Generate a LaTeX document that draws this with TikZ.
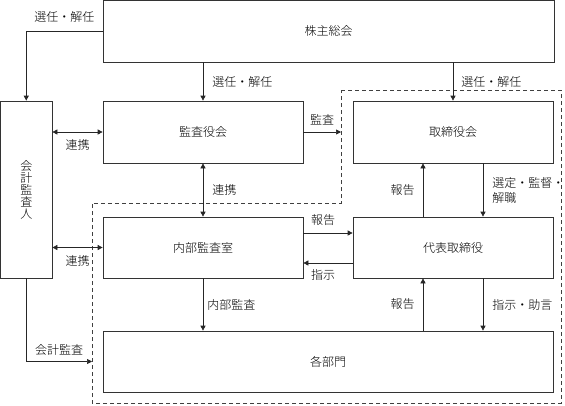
\documentclass[tikz,border=0pt]{standalone}
\usepackage{fontspec}
\setmainfont{Noto Sans CJK JP}[UprightFont=* Light]
\usetikzlibrary{arrows.meta,calc}

\begin{document}
\begin{tikzpicture}[x=1pt,y=-1pt]
\tikzstyle{every node}+=[inner sep=0pt, font=\fontsize{12}{12}\selectfont]
\tikzstyle{box}=[draw=black!80, line width=0.7pt]
\tikzstyle{arr}=[draw=black!85, line width=0.7pt, -{Triangle[length=5pt,width=5pt]}]
\tikzstyle{biarr}=[arr, {Triangle[length=5pt,width=5pt]}-{Triangle[length=5pt,width=5pt]}]
\tikzstyle{dashline}=[draw=black!75, line width=0.7pt, dash pattern=on 4pt off 3pt]
\useasboundingbox (0,0) rectangle (565,405);
% boxes
\node[box, minimum width=451pt, minimum height=61.5pt] (soukai) at (328.5,31.25) {株主総会};
\node[box, minimum width=51.5pt, minimum height=177pt, align=center] (kansanin) at (26.25,189.5) {会\\計\\監\\査\\人};
\node[box, minimum width=200pt, minimum height=62pt] (kansayaku) at (203,132) {監査役会};
\node[box, minimum width=200pt, minimum height=62pt] (torishimari) at (453,132) {取締役会};
\node[box, minimum width=200pt, minimum height=61pt] (naibu) at (203,247.5) {内部監査室};
\node[box, minimum width=200pt, minimum height=61pt] (daihyo) at (453,247.5) {代表取締役};
\node[box, minimum width=450pt, minimum height=61pt] (bumon) at (328,361.5) {各部門};
% dashed area
\coordinate (dtl) at (341,90);
\coordinate (dtr) at (561,90);
\coordinate (dbr) at (561,403);
\coordinate (dbl) at (92,403);
\coordinate (dml) at (92,203);
\coordinate (dmr) at (341,203);
\draw[dashline] (dtl) -- (dtr) -- (dbr) -- (dbl) -- (dml) -- (dmr) -- cycle;
% connectors
\draw[arr] (soukai.west) -| node[pos=0.25, above=8pt] {選任・解任} (kansanin.north);
\draw[arr] (kansayaku.north |- soukai.south) -- node[right=9pt] {選任・解任} (kansayaku.north);
\draw[arr] (torishimari.north |- soukai.south) -- node[right=8pt] {選任・解任} (torishimari.north);
\draw[biarr] (kansanin.east |- kansayaku.west) -- node[below=7pt] {連携} (kansayaku.west);
\draw[arr] (kansayaku.east) -- node[above=7pt] {監査} (kansayaku.east -| dtl);
\draw[biarr] (kansayaku.south) -- node[right=9pt] {連携} (naibu.north);
\draw[biarr] (kansanin.east |- naibu.west) -- node[below=8pt] {連携} (naibu.west);
\draw[arr] ([yshift=14.5pt]naibu.east) -- node[above=7pt, xshift=-5pt] {報告} ([yshift=14.5pt]daihyo.west);
\draw[arr] ([yshift=-15.5pt]daihyo.west) -- node[below=6pt, xshift=-5pt] {指示} ([yshift=-15.5pt]naibu.east);
\draw[arr] ($(daihyo.north)+(-30,0)$) -- node[left=8pt] {報告} ($(torishimari.south)+(-30,0)$);
\draw[arr] ($(torishimari.south)+(30,0)$) -- node[right=9pt, align=left, font=\fontsize{12}{15}\selectfont] {選定・監督・\\解職} ($(daihyo.north)+(30,0)$);
\draw[arr] (naibu.south) -- node[right=4pt] {内部監査} (naibu.south |- bumon.north);
\draw[arr] ($(bumon.north -| daihyo.south)+(-30,0)$) -- node[left=8pt] {報告} ($(daihyo.south)+(-30,0)$);
\draw[arr] ($(daihyo.south)+(30,0)$) -- node[right=9pt] {指示・助言} ($(bumon.north -| daihyo.south)+(30,0)$);
\draw[arr] (kansanin.south) |- node[pos=0.75, above=6pt] {会計監査} (bumon.west -| dbl);
\end{tikzpicture}
\end{document}
